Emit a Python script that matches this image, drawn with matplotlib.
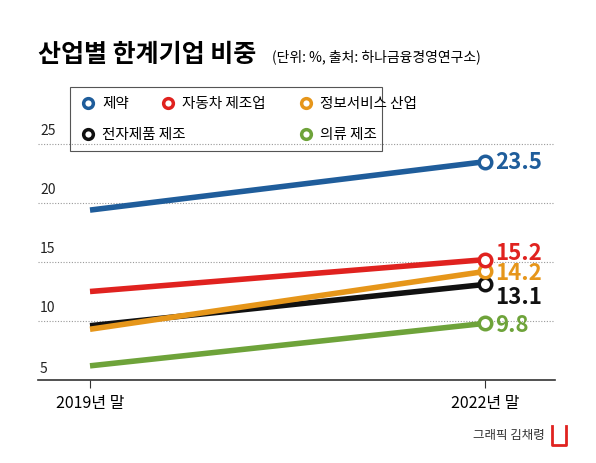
import matplotlib.pyplot as plt
from matplotlib.patches import Rectangle

plt.rcParams['font.family'] = ['Noto Sans CJK KR', 'DejaVu Sans']

years = ['2019년 말', '2022년 말']
series = ['제약', '자동차 제조업', '정보서비스 산업', '전자제품 제조', '의류 제조']
values = {
    '제약': [19.4, 23.5],
    '자동차 제조업': [12.5, 15.2],
    '정보서비스 산업': [9.3, 14.2],
    '전자제품 제조': [9.6, 13.1],
    '의류 제조': [6.2, 9.8],
}
colors = {
    '제약': '#1f5d9b',
    '자동차 제조업': '#e0221f',
    '정보서비스 산업': '#e6961a',
    '전자제품 제조': '#111111',
    '의류 제조': '#6ea33a',
}
label_dy = {'제약': 0, '자동차 제조업': 0.6, '정보서비스 산업': -0.1, '전자제품 제조': -1.0, '의류 제조': -0.1}

fig = plt.figure(figsize=(5.96, 4.64), dpi=100)
ax = fig.add_axes([38 / 596, 1 - 381 / 464, 517 / 596, 265.5 / 464])
xs = [90, 485]
ax.set_xlim(38, 555)
ax.set_ylim(5, 27.5)

for y in [10, 15, 20, 25]:
    ax.axhline(y, color='#999999', lw=0.8, ls=(0, (1, 1.5)), zorder=0)
    ax.text(40, y + 0.6, str(y), fontsize=10, color='#222222', va='bottom')
ax.text(40, 5.4, '5', fontsize=10, color='#222222', va='bottom')

order = ['의류 제조', '전자제품 제조', '정보서비스 산업', '자동차 제조업', '제약']
for name in order:
    v = values[name]
    c = colors[name]
    ax.plot(xs, v, color=c, lw=4, solid_capstyle='butt', zorder=3)
    ax.plot(xs[1], v[1], 'o', ms=9, mfc='white', mec=c, mew=2.5, zorder=4)
    ax.text(xs[1] + 10, v[1] + label_dy[name], f'{v[1]}', fontsize=16, color=c,
            va='center', ha='left', fontweight='bold')

for s in ['top', 'right', 'left']:
    ax.spines[s].set_visible(False)
ax.spines['bottom'].set_color('#333333')
ax.spines['bottom'].set_linewidth(1.2)
ax.set_yticks([])
ax.set_xticks(xs)
ax.set_xticklabels(years, fontsize=11.5)
ax.tick_params(axis='x', length=6, color='#333333', pad=4)

# legend box
fig.patches.append(Rectangle((70 / 596, 1 - 152 / 464), 312 / 596, 64 / 464,
                             transform=fig.transFigure, fill=False, ec='#555555', lw=0.8))
leg_pos = [(88, 104), (168, 104), (306, 104), (88, 135), (306, 135)]
for name, (px, py) in zip(series, leg_pos):
    fx, fy = px / 596, 1 - py / 464
    fig.lines.append(plt.Line2D([fx], [fy], marker='o', ms=7, mfc='white', mec=colors[name],
                                mew=2.5, transform=fig.transFigure))
    fig.text(fx + 14 / 596, fy, name, fontsize=10.5, va='center', ha='left')

fig.text(38 / 596, 1 - 55 / 464, '산업별 한계기업 비중', fontsize=18, fontweight='bold', va='center')
fig.text(272 / 596, 1 - 57 / 464, '(단위: %, 출처: 하나금융경영연구소)', fontsize=10, va='center')
fig.text(545 / 596, 1 - 436 / 464, '그래픽 김채령', fontsize=9, va='center', ha='right', color='#333333')
fig.lines.append(plt.Line2D([552 / 596, 552 / 596, 566 / 596, 566 / 596],
                            [1 - 427 / 464, 1 - 446 / 464, 1 - 446 / 464, 1 - 427 / 464],
                            color='#e0221f', lw=2, transform=fig.transFigure))

fig.savefig('out.png', dpi=100)
